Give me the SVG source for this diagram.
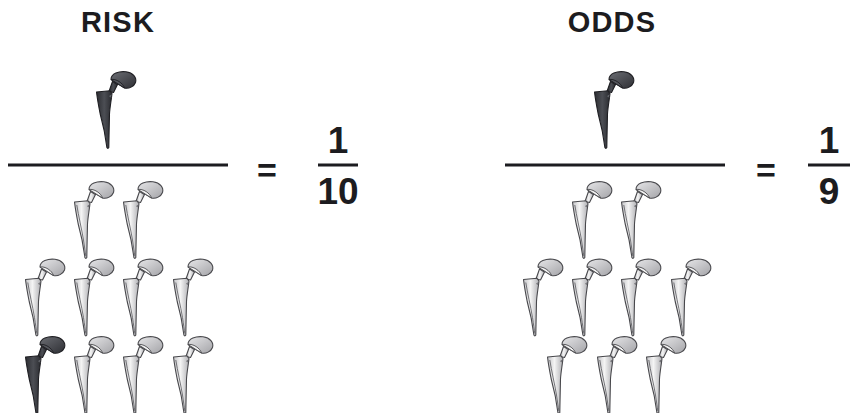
<svg xmlns="http://www.w3.org/2000/svg" xmlns:xlink="http://www.w3.org/1999/xlink" width="850" height="413" viewBox="0 0 850 413">
  <style>
    .title { font-family: "Liberation Sans", Arial, sans-serif; font-weight: bold; font-size: 29px; fill: #1c1c20; letter-spacing: 1.2px; }
    .num { font-family: "Liberation Sans", Arial, sans-serif; font-weight: bold; font-size: 37px; fill: #1c1c20; }
    .eq { font-family: "Liberation Sans", Arial, sans-serif; font-weight: bold; font-size: 34px; fill: #1c1c20; }
    .bar { stroke: #1c1c20; stroke-width: 3; }
    .lt-stem { fill: url(#gLight); stroke: #48484c; stroke-width: 1.1; stroke-linejoin: round; }
    .lt-head { fill: url(#gHeadLight); stroke: #48484c; stroke-width: 1.1; stroke-linejoin: round; }
    .lt-face { fill: #f2f2f2; stroke: #48484c; stroke-width: 0.9; stroke-linejoin: round; }
    .lt-line { fill: none; stroke: #56565a; stroke-width: 0.8; }
    .dk-stem { fill: url(#gDark); stroke: #1e1e22; stroke-width: 1.1; stroke-linejoin: round; }
    .dk-head { fill: url(#gHeadDark); stroke: #1e1e22; stroke-width: 1.1; stroke-linejoin: round; }
    .dk-face { fill: #55575d; stroke: #1e1e22; stroke-width: 0.9; stroke-linejoin: round; }
    .dk-line { fill: none; stroke: #74767c; stroke-width: 0.8; }
  </style>
  <defs>
    <linearGradient id="gLight" x1="0" y1="0" x2="1" y2="0">
      <stop offset="0" stop-color="#c4c4c7"/>
      <stop offset="0.45" stop-color="#f4f4f4"/>
      <stop offset="1" stop-color="#b0b0b4"/>
    </linearGradient>
    <linearGradient id="gHeadLight" x1="0" y1="0" x2="1" y2="1">
      <stop offset="0" stop-color="#e6e6e8"/>
      <stop offset="1" stop-color="#a4a4a8"/>
    </linearGradient>
    <linearGradient id="gDark" x1="0" y1="0" x2="1" y2="0">
      <stop offset="0" stop-color="#2c2d32"/>
      <stop offset="0.5" stop-color="#4c4e54"/>
      <stop offset="1" stop-color="#2a2b30"/>
    </linearGradient>
    <linearGradient id="gHeadDark" x1="0" y1="0" x2="1" y2="1">
      <stop offset="0" stop-color="#6c6e74"/>
      <stop offset="1" stop-color="#2e2f34"/>
    </linearGradient>

    <!-- hip implant: tapered stem, short neck and domed ball head; local box 41 x 77 -->
    <g id="implant-light">
      <path class="lt-stem" d="M13,19.5 L16.5,9.5 L21.5,12.5 L17.5,20.5 Z"/>
      <path class="lt-stem" d="M0.5,20 L14,18.8 L16,21.5 C15,30 13.8,36 13.5,42 C13.2,52 13,64 12.8,75.5 C12.3,76.6 11.4,76.6 10.9,75.5 C9.5,64 7,52 4.2,42 C3,36 1.5,28 0.5,20 Z"/>
      <path class="lt-line" d="M15.6,23 L13.6,24.2 L15.4,25.2"/>
      <path class="lt-line" d="M2.8,23 C4.5,34 7.5,46 9.5,58 C10.5,65 11.3,70 11.8,74"/>
      <path class="lt-head" d="M15,7.5 C15,1.5 23,-1 30,-0.2 C37,0.6 41,5.5 39.5,10.5 C38,14.5 33,17 28.5,16 Z"/>
      <path class="lt-face" d="M15,7.5 C20,6.5 27,11 28.5,16 Z"/>
    </g>
    <g id="implant-dark">
      <path class="dk-stem" d="M13,19.5 L16.5,9.5 L21.5,12.5 L17.5,20.5 Z"/>
      <path class="dk-stem" d="M0.5,20 L14,18.8 L16,21.5 C15,30 13.8,36 13.5,42 C13.2,52 13,64 12.8,75.5 C12.3,76.6 11.4,76.6 10.9,75.5 C9.5,64 7,52 4.2,42 C3,36 1.5,28 0.5,20 Z"/>
      <path class="dk-line" d="M15.6,23 L13.6,24.2 L15.4,25.2"/>
      <path class="dk-head" d="M15,7.5 C15,1.5 23,-1 30,-0.2 C37,0.6 41,5.5 39.5,10.5 C38,14.5 33,17 28.5,16 Z"/>
      <path class="dk-face" d="M15,7.5 C20,6.5 27,11 28.5,16 Z"/>
    </g>
  </defs>

  <!-- RISK panel -->
  <g id="risk">
    <text class="title" x="118" y="32" text-anchor="middle">RISK</text>
    <g id="risk-numerator"><use xlink:href="#implant-dark" x="96" y="72"/></g>
    <line class="bar" x1="8" y1="165" x2="228" y2="165"/>
    <g id="risk-denominator">
      <use xlink:href="#implant-light" x="74" y="182"/>
      <use xlink:href="#implant-light" x="123" y="182"/>
      <use xlink:href="#implant-light" x="25" y="259.5"/>
      <use xlink:href="#implant-light" x="74" y="259.5"/>
      <use xlink:href="#implant-light" x="123" y="259.5"/>
      <use xlink:href="#implant-light" x="173" y="259.5"/>
      <use xlink:href="#implant-dark" x="25" y="337"/>
      <use xlink:href="#implant-light" x="74" y="337"/>
      <use xlink:href="#implant-light" x="123" y="337"/>
      <use xlink:href="#implant-light" x="173" y="337"/>
    </g>
    <text class="eq" x="267" y="182" text-anchor="middle">=</text>
    <g id="risk-value">
      <text class="num" x="338" y="153" text-anchor="middle">1</text>
      <line class="bar" x1="318" y1="165" x2="358" y2="165"/>
      <text class="num" x="338" y="204" text-anchor="middle">10</text>
    </g>
  </g>

  <!-- ODDS panel -->
  <g id="odds">
    <text class="title" x="612" y="32" text-anchor="middle">ODDS</text>
    <g id="odds-numerator"><use xlink:href="#implant-dark" x="594" y="72"/></g>
    <line class="bar" x1="505" y1="165" x2="725" y2="165"/>
    <g id="odds-denominator">
      <use xlink:href="#implant-light" x="572" y="182"/>
      <use xlink:href="#implant-light" x="621" y="182"/>
      <use xlink:href="#implant-light" x="523" y="259.5"/>
      <use xlink:href="#implant-light" x="572" y="259.5"/>
      <use xlink:href="#implant-light" x="621" y="259.5"/>
      <use xlink:href="#implant-light" x="671" y="259.5"/>
      <use xlink:href="#implant-light" x="547" y="337"/>
      <use xlink:href="#implant-light" x="597" y="337"/>
      <use xlink:href="#implant-light" x="646" y="337"/>
    </g>
    <text class="eq" x="766" y="182" text-anchor="middle">=</text>
    <g id="odds-value">
      <text class="num" x="829" y="153" text-anchor="middle">1</text>
      <line class="bar" x1="808" y1="165" x2="850" y2="165"/>
      <text class="num" x="829" y="204" text-anchor="middle">9</text>
    </g>
  </g>
</svg>
